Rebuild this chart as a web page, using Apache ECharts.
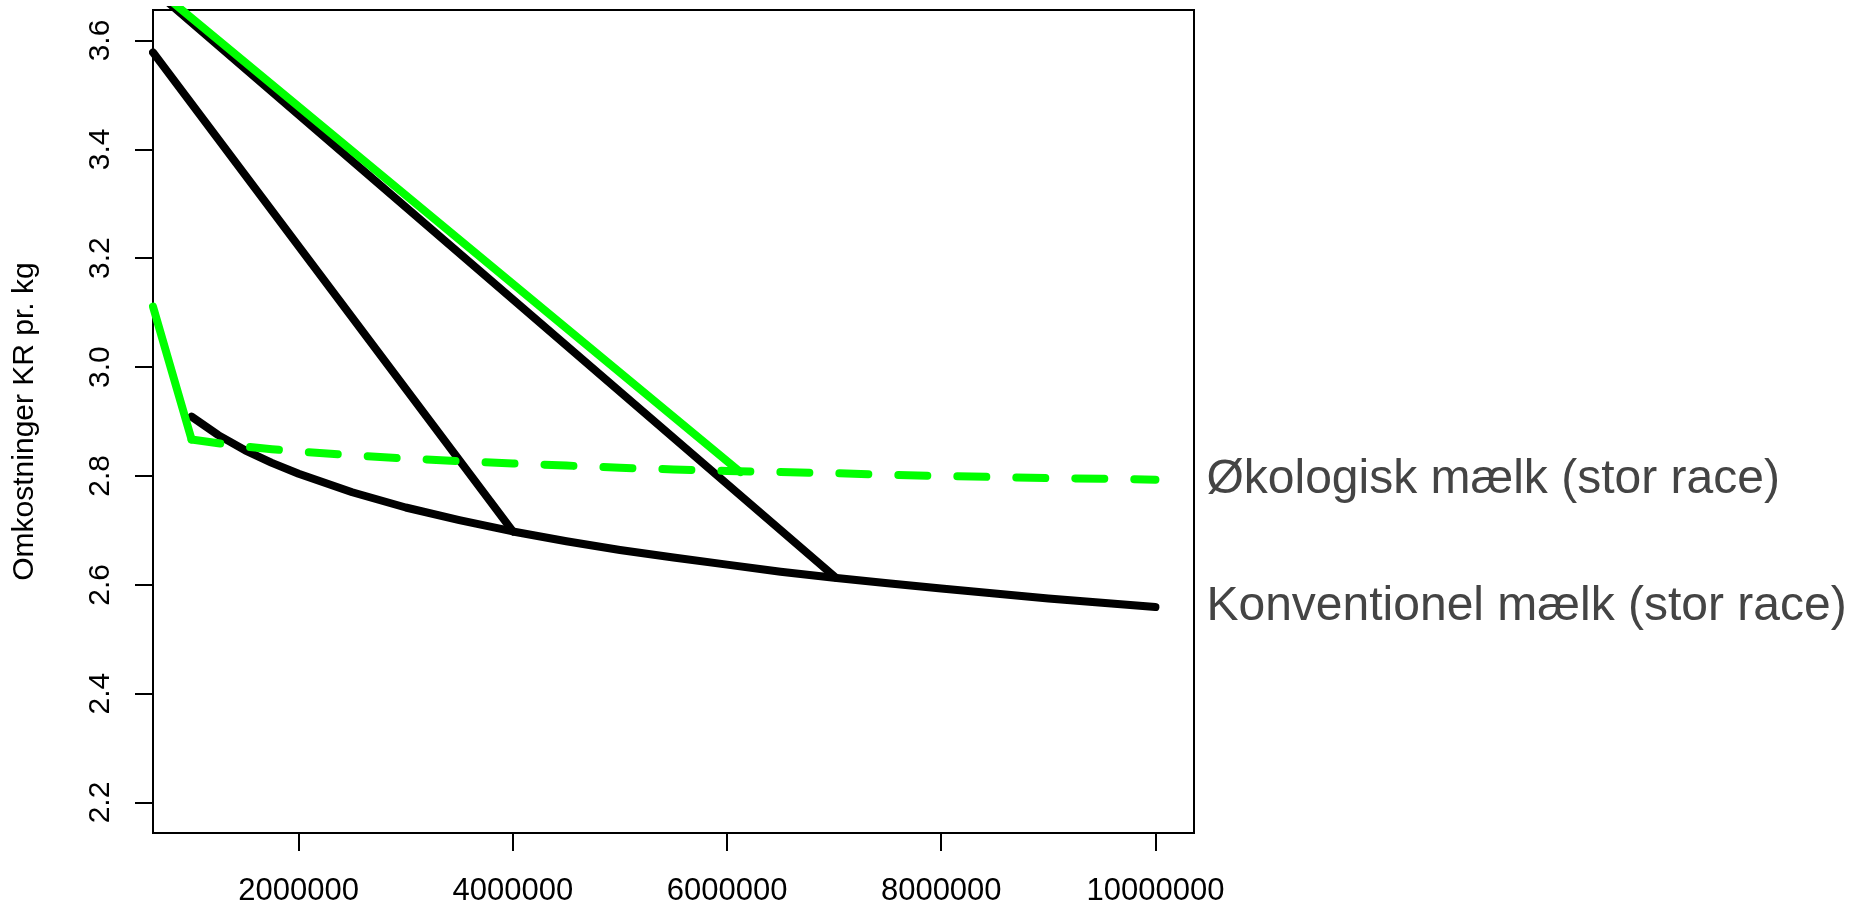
<!DOCTYPE html>
<html>
<head>
<meta charset="utf-8">
<script src="https://cdn.jsdelivr.net/npm/echarts@6/dist/echarts.min.js"></script>
<style>
html,body{margin:0;padding:0;background:#fff;}
#chart{width:1851px;height:907px;}
</style>
</head>
<body>
<div id="chart"></div>
<script>
// ---- data ----
var production = [1000000,1250000,1500000,1750000,2000000,2500000,3000000,3500000,4000000,4500000,5000000,5500000,6000000,6500000,7000000,7500000,8000000,8500000,9000000,9500000,10000000];
var conventionalCost = [2.909,2.875,2.847,2.824,2.804,2.770,2.742,2.719,2.698,2.680,2.664,2.650,2.637,2.624,2.613,2.603,2.593,2.584,2.575,2.567,2.559];
var organicCost = [2.867,2.860,2.854,2.849,2.845,2.838,2.832,2.827,2.823,2.819,2.815,2.812,2.809,2.807,2.805,2.802,2.800,2.798,2.796,2.795,2.793];

// straight cost lines (start x, end x) / (start y, end y)
var convLineA_x = [640000, 4000000];
var convLineA_y = [3.578, 2.698];
var convLineB_x = [640000, 7011000];
var convLineB_y = [3.694, 2.614];
var orgLineA_x = [640000, 1000000];
var orgLineA_y = [3.111, 2.867];
var orgLineB_x = [640000, 6124000];
var orgLineB_y = [3.700, 2.807];

var xTicks = [2000000, 4000000, 6000000, 8000000, 10000000];
var yTicks = [2.2, 2.4, 2.6, 2.8, 3.0, 3.2, 3.4, 3.6];
var xRange = [640000, 10360000];
var yRange = [2.144, 3.656];

var organicName = 'Økologisk mælk (stor race)';
var conventionalName = 'Konventionel mælk (stor race)';
var yTitle = 'Omkostninger KR pr. kg';

// ---- build ----
function pairs(xs, ys) { return xs.map(function (x, i) { return [x, ys[i]]; }); }
var FONT = "'Liberation Sans', Arial, Helvetica, sans-serif";
var GREEN = '#00ff00';
var LW = 8;

var chart = echarts.init(document.getElementById('chart'), null, {renderer: 'canvas'});
chart.setOption({
  animation: false,
  backgroundColor: '#fff',
  grid: {left: 153, right: 657, top: 10, bottom: 72, show: true, borderColor: '#000', borderWidth: 2, backgroundColor: 'transparent'},
  xAxis: {
    type: 'value', min: xRange[0], max: xRange[1],
    axisLine: {show: false},
    splitLine: {show: false},
    axisTick: {show: true, customValues: xTicks, length: 18, lineStyle: {color: '#000', width: 2}},
    axisLabel: {customValues: xTicks, margin: 43, color: '#000', fontSize: 31, fontFamily: FONT,
      formatter: function (v) { return String(v); }}
  },
  yAxis: {
    type: 'value', min: yRange[0], max: yRange[1],
    axisLine: {show: false},
    splitLine: {show: false},
    axisTick: {show: true, customValues: yTicks, length: 18, lineStyle: {color: '#000', width: 2}},
    axisLabel: {customValues: yTicks, margin: 37, rotate: 90, color: '#000', fontSize: 30, fontFamily: FONT,
      formatter: function (v) { return v.toFixed(1); }},
    name: yTitle, nameLocation: 'middle', nameRotate: 90, nameGap: 113,
    nameTextStyle: {color: '#000', fontSize: 30, fontFamily: FONT}
  },
  series: [
    {name: 'convLineA', type: 'line', data: pairs(convLineA_x, convLineA_y), showSymbol: false, clip: true,
      lineStyle: {color: '#000', width: LW, cap: 'round', join: 'round'}},
    {name: 'convLineB', type: 'line', data: pairs(convLineB_x, convLineB_y), showSymbol: false, clip: true,
      lineStyle: {color: '#000', width: LW, cap: 'round', join: 'round'}},
    {name: conventionalName, type: 'line', data: pairs(production, conventionalCost), showSymbol: false, clip: true,
      lineStyle: {color: '#000', width: LW, cap: 'round', join: 'round'},
      endLabel: {show: true, formatter: '{a}', distance: 51, color: '#444', fontSize: 48, fontFamily: FONT}},
    {name: 'orgLineA', type: 'line', data: pairs(orgLineA_x, orgLineA_y), showSymbol: false, clip: true,
      lineStyle: {color: GREEN, width: LW, cap: 'round', join: 'round'}},
    {name: 'orgLineB', type: 'line', data: pairs(orgLineB_x, orgLineB_y), showSymbol: false, clip: true,
      lineStyle: {color: GREEN, width: LW, cap: 'round', join: 'round'}},
    {name: organicName, type: 'line', data: pairs(production, organicCost), showSymbol: false, clip: true,
      lineStyle: {color: GREEN, width: LW, type: [29, 30], cap: 'round', join: 'round'},
      endLabel: {show: true, formatter: '{a}', distance: 51, color: '#444', fontSize: 48, fontFamily: FONT}}
  ]
});
</script>
</body>
</html>
